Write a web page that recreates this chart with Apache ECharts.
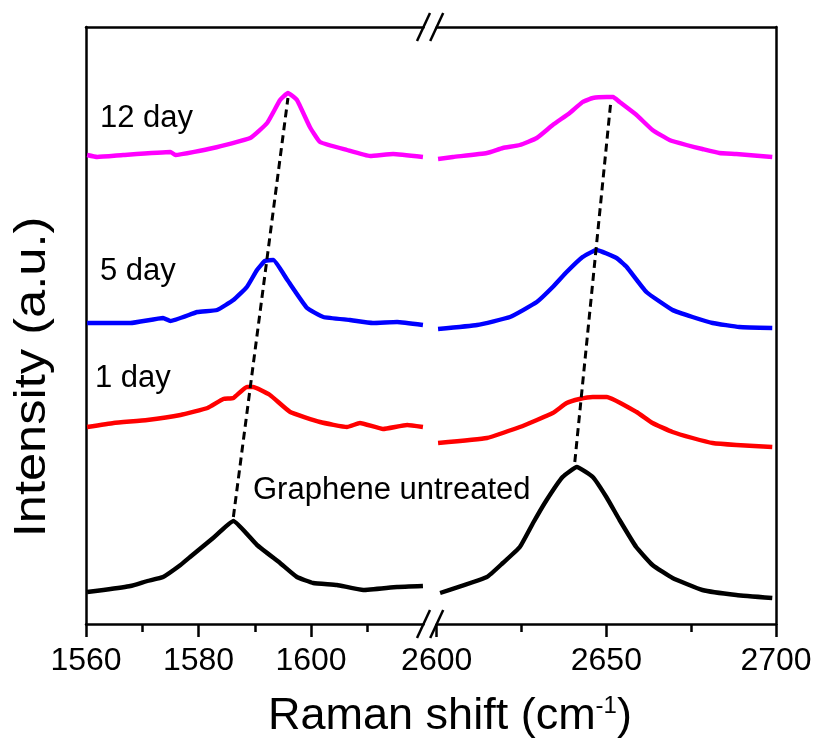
<!DOCTYPE html>
<html><head><meta charset="utf-8">
<script src="https://cdn.jsdelivr.net/npm/echarts@6/dist/echarts.min.js"></script>
<style>html,body{margin:0;padding:0;background:#fff}#c{width:818px;height:738px}</style>
</head><body><div id="c"></div>
<script>
// ---- data (Raman shift cm^-1, intensity a.u. with vertical offsets) ----
const leftRange = [1560, 1620];
const rightRange = [2600, 2700];
const leftMajorTicks = [1560, 1580, 1600];
const leftMinorTicks = [1570, 1590, 1610];
const rightMajorTicks = [2600, 2650, 2700];
const rightMinorTicks = [2625, 2675];
const intensityRange = [0, 597];

const day12G = [[1560.2,469],[1562,467],[1566.6,469],[1575,472],[1575.9,469],[1582.6,476],[1589.2,486],[1592.2,501],[1594.5,524],[1595.9,531],[1597.5,524],[1599.8,497],[1601.6,482],[1606.4,474],[1610.5,468],[1614.6,470],[1619.9,467]];
const day12_2D = [[2600.4,465],[2604.8,467],[2614.8,471],[2619.5,476],[2624.5,479],[2629.5,486],[2634.2,499],[2639.2,511],[2643,522],[2646,526],[2650.1,527],[2652,527],[2653.9,522],[2658.9,509],[2663.6,494],[2668.6,484],[2673.6,479],[2678.3,475],[2683.3,471],[2688.3,470],[2698.9,467]];

const day5G = [[1560.2,301],[1567.9,301],[1573.7,306],[1575,303],[1579.8,312],[1583.3,314],[1586.2,324],[1588.6,337],[1590.4,354],[1591.8,363],[1593.3,364],[1595.8,344],[1599.3,316],[1602.2,307],[1606.9,304],[1611,301],[1615.3,302],[1619.9,299]];
const day5_2D = [[2600.4,295],[2611.9,299],[2621.6,307],[2629.5,322],[2634.2,337],[2638.3,352],[2643,367],[2647.1,374],[2653,366],[2656,357],[2661.8,332],[2669.5,314],[2675.4,307],[2681.3,301],[2689.2,297],[2698.9,296]];

const day1G = [[1560.2,197],[1564.9,201],[1570.9,204],[1576.8,209],[1581.6,216],[1584.4,225],[1586.2,226],[1588.6,237],[1589.7,237],[1592.7,229],[1596.3,212],[1601.6,202],[1606.4,197],[1608.7,201],[1612.8,195],[1617.1,199],[1619.9,197]];
const day1_2D = [[2600.4,181],[2614.8,186],[2624.5,197],[2634.2,211],[2638.3,221],[2642.1,225],[2646,227],[2650.1,227],[2658.9,212],[2663.6,201],[2669.5,192],[2675.4,186],[2681.3,181],[2688.3,179],[2698.9,177]];

const untreatedG = [[1560.2,32],[1563.1,34],[1567.9,38],[1570.9,43],[1573.7,47],[1576.8,59],[1578.5,67],[1582.6,86],[1586.2,103],[1590.4,79],[1594.5,61],[1597.5,47],[1600.4,41],[1604.6,39],[1609.3,34],[1615.3,37],[1619.9,38]];
const untreated2D = [[2601,31],[2614.8,47],[2619.5,61],[2624.5,77],[2628.4,101],[2632.4,124],[2637.1,147],[2641.3,157],[2646,147],[2650,127],[2653.9,104],[2658.8,77],[2663.6,59],[2669.5,46],[2678.3,34],[2688.3,29],[2698.9,26]];

const shiftLineG = [[1586.2,107],[1595.9,526]];
const shiftLine2D = [[2640.7,162],[2651.3,522]];

const seriesLabels = ['12 day', '5 day', '1 day', 'Graphene untreated'];
const colors = ['#ff00ff', '#0000ff', '#ff0000', '#000000'];

// ---- chart ----
const chart = echarts.init(document.getElementById('c'), null, {renderer: 'canvas'});
const FONT = 'Liberation Sans, Arial, sans-serif';
const axisLineStyle = {color: '#000', width: 2.5};

function bottomAxis(grid, range, ticks, len, labels) {
  return {
    type: 'value', gridIndex: grid, min: range[0], max: range[1], position: 'bottom',
    axisLine: {show: labels, lineStyle: axisLineStyle, onZero: false},
    axisTick: {show: true, inside: false, length: len, customValues: ticks, lineStyle: axisLineStyle},
    axisLabel: labels ? {show: true, customValues: ticks, fontSize: 32, color: '#000', fontFamily: FONT, margin: 21,
      formatter: function (v) { return String(v); }} : {show: false},
    splitLine: {show: false}, minorTick: {show: false}
  };
}
function topAxis(grid, range) {
  return {
    type: 'value', gridIndex: grid, min: range[0], max: range[1], position: 'top',
    axisLine: {show: true, lineStyle: axisLineStyle, onZero: false},
    axisTick: {show: false}, axisLabel: {show: false}, splitLine: {show: false}
  };
}
function yAx(grid, pos) {
  return {
    type: 'value', gridIndex: grid, min: intensityRange[0], max: intensityRange[1], position: pos,
    axisLine: {show: true, lineStyle: axisLineStyle, onZero: false},
    axisTick: {show: false}, axisLabel: {show: false}, splitLine: {show: false}
  };
}

function line(data, color, xi, yi, dashed) {
  return {
    type: 'line', data: data, xAxisIndex: xi, yAxisIndex: yi,
    showSymbol: false, symbol: 'none', smooth: dashed ? false : 0.12,
    lineStyle: dashed ? {color: '#000', width: 3, type: [8, 5]} : {color: color, width: 4.4, join: 'round', cap: 'butt'},
    z: dashed ? 3 : 2, silent: true, animation: false
  };
}

const option = {
  backgroundColor: '#fff',
  animation: false,
  grid: [
    {left: 86, right: 818 - 423.5, top: 27, bottom: 738 - 624},
    {left: 436.7, right: 42, top: 27, bottom: 738 - 624}
  ],
  xAxis: [
    bottomAxis(0, leftRange, leftMajorTicks, 13, true),
    bottomAxis(0, leftRange, leftMinorTicks, 8, false),
    topAxis(0, leftRange),
    bottomAxis(1, rightRange, rightMajorTicks, 13, true),
    bottomAxis(1, rightRange, rightMinorTicks, 8, false),
    topAxis(1, rightRange)
  ],
  yAxis: [yAx(0, 'left'), yAx(1, 'right')],
  series: [
    line(day12G, colors[0], 0, 0), line(day12_2D, colors[0], 3, 1),
    line(day5G, colors[1], 0, 0), line(day5_2D, colors[1], 3, 1),
    line(day1G, colors[2], 0, 0), line(day1_2D, colors[2], 3, 1),
    line(untreatedG, colors[3], 0, 0), line(untreated2D, colors[3], 3, 1),
    line(shiftLineG, '#000', 0, 0, true), line(shiftLine2D, '#000', 3, 1, true)
  ]
};
chart.setOption(option);

// break marks and texts
const xL = chart.convertToPixel({xAxisIndex: 0}, leftRange[1]);
const xR = chart.convertToPixel({xAxisIndex: 3}, rightRange[0]);
const yTop = chart.convertToPixel({yAxisIndex: 0}, intensityRange[1]);
const yBot = chart.convertToPixel({yAxisIndex: 0}, intensityRange[0]);
const slashes = [];
[yTop, yBot].forEach(function (yy) {
  [xL, xR].forEach(function (xx) {
    slashes.push({type: 'line', shape: {x1: xx - 6.5, y1: yy + 14, x2: xx + 6.5, y2: yy - 14},
      style: {stroke: '#000', lineWidth: 2.5}, z: 10});
  });
});
const labelPos = [[100, 118], [100, 271], [95, 378], [253, 490]];
const texts = seriesLabels.map(function (t, i) {
  return {type: 'text', x: labelPos[i][0], y: labelPos[i][1], z: 10,
    style: {text: t, fontSize: 31, fontFamily: FONT, fill: '#000', textAlign: 'left', textVerticalAlign: 'middle'}};
});
texts.push({type: 'text', x: 450, y: 717, z: 10,
  style: {text: '{a|Raman shift (cm}{s|-1}{a|)}', textAlign: 'center', textVerticalAlign: 'middle', fill: '#000',
    rich: {a: {fontSize: 45, fontFamily: FONT, fill: '#000'}, s: {fontSize: 24, fontFamily: FONT, fill: '#000', padding: [0, 0, 22, 0]}}}});
texts.push({type: 'text', x: 33, y: 377, rotation: Math.PI / 2, scaleX: 1.15, z: 10,
  style: {text: 'Intensity (a.u.)', fontSize: 44, fontFamily: FONT, fill: '#000', textAlign: 'center', textVerticalAlign: 'middle'}});

chart.setOption({graphic: slashes.concat(texts)});
</script>
</body></html>
